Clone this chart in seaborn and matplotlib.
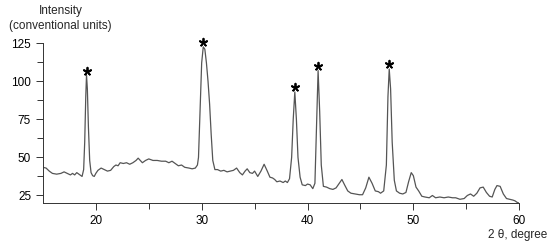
import seaborn as sns
import pandas as pd
from matplotlib import pyplot as plt

# 2 theta (degree) and intensity
two_theta = [15.0, 15.3, 15.6, 15.9, 16.3, 16.7, 17.0, 17.3, 17.6, 17.8, 18.0, 18.2, 18.4, 18.6, 18.7,
             18.85, 18.95, 19.05, 19.12, 19.2, 19.3, 19.42, 19.55, 19.7, 19.85, 20.0, 20.2, 20.5, 20.8,
             21.1, 21.4, 21.7, 21.9, 22.1, 22.3, 22.6, 22.9, 23.2, 23.5, 23.8, 24.0, 24.2, 24.4, 24.7,
             25.0, 25.4, 25.8, 26.2, 26.6, 26.9, 27.2, 27.5, 27.8, 28.1, 28.4, 28.8, 29.1, 29.4, 29.6,
             29.7, 29.85, 30.0, 30.15, 30.3, 30.45, 30.6, 30.75, 30.9, 31.05, 31.25, 31.5, 31.8, 32.1,
             32.4, 32.7, 33.0, 33.3, 33.6, 33.85, 34.1, 34.3, 34.55, 34.8, 35.0, 35.3, 35.6, 35.9, 36.2,
             36.45, 36.7, 36.9, 37.1, 37.4, 37.7, 37.9, 38.1, 38.3, 38.5, 38.65, 38.8, 38.95, 39.1, 39.3,
             39.5, 39.8, 40.0, 40.25, 40.5, 40.7, 40.85, 41.0, 41.15, 41.3, 41.5, 41.8, 42.1, 42.4, 42.7,
             43.0, 43.25, 43.5, 43.8, 44.1, 44.5, 44.9, 45.2, 45.5, 45.8, 46.1, 46.4, 46.7, 46.9, 47.2,
             47.45, 47.6, 47.72, 47.85, 48.0, 48.2, 48.4, 48.7, 49.0, 49.3, 49.55, 49.8, 50.0, 50.25,
             50.5, 50.8, 51.1, 51.5, 51.8, 52.1, 52.5, 52.9, 53.3, 53.7, 54.0, 54.4, 54.8, 55.1, 55.4,
             55.7, 56.0, 56.3, 56.6, 56.9, 57.2, 57.45, 57.7, 57.9, 58.2, 58.5, 58.8, 59.1, 59.4, 59.6,
             59.8, 60.0]
intensity = [43.5, 43, 41, 39.5, 39, 39.5, 40.5, 39.5, 38.5, 39.5, 38.5, 40, 39, 38, 37.5,
             42, 60, 90, 104, 95, 70, 48, 40, 38, 37.5, 39.5, 41.5, 43, 42,
             41, 41.5, 44, 45, 44.5, 46.5, 46, 46.5, 45.5, 46.5, 48, 49.5, 48, 46.5, 48,
             49, 48, 48, 47.5, 47.5, 46.5, 47.5, 46, 44.5, 45, 43.5, 43, 42.5, 43, 45,
             50, 80, 112, 122.5, 121, 112, 100, 85, 65, 48, 42, 42, 41, 41.5,
             40.5, 41, 41.5, 43, 40, 38.5, 41, 42.5, 40, 39.5, 41, 37.5, 41, 45.5, 41,
             37, 36.5, 35.5, 34, 34.5, 33.5, 34.5, 33.5, 36, 50, 75, 93, 75, 50, 37,
             32, 31.5, 32.5, 32, 29.5, 33, 70, 107, 80, 45, 31, 30.5, 29.5, 29, 30,
             33, 35.5, 32, 28, 26.5, 26, 25.5, 25.5, 30, 37, 33, 28, 27.5, 26.5, 28,
             45, 90, 108, 95, 60, 35, 28, 26.5, 26, 27, 34, 40, 38, 30.5,
             28, 24.5, 24, 23.5, 25, 23.5, 24, 23.5, 24, 23.5, 23.5, 22.5, 23, 25, 26,
             24.5, 26.5, 30, 30.5, 27, 24.5, 24, 29, 31.5, 31, 26, 23, 22.5, 22, 21.5,
             20.5, 20]

# marked peaks (asterisks)
star_x = [19.12, 30.15, 38.8, 41.0, 47.72]
star_y = [107, 126, 96, 110, 111]

df = pd.DataFrame({'two_theta': two_theta, 'intensity': intensity})

sns.set_style('ticks')
plt.rcParams['font.family'] = ['Liberation Sans', 'DejaVu Sans']

fig = plt.figure(figsize=(5.5, 2.45), dpi=100)
ax = fig.add_axes([0.078, 0.171, 0.866, 0.653])

sns.lineplot(data=df, x='two_theta', y='intensity', ax=ax, color='#555555', linewidth=0.9)
ax.scatter(star_x, star_y, marker=(5, 2, 0), s=30, color='black', linewidths=1.3, clip_on=False, zorder=3)

ax.set_xlim(15, 60)
ax.set_ylim(20, 125)
ax.set_xticks([20, 30, 40, 50, 60])
ax.set_xticks([25, 35, 45, 55], minor=True)
ax.set_yticks([25, 50, 75, 100, 125])
ax.set_yticks([37.5, 62.5, 87.5, 112.5], minor=True)
ax.tick_params(which='major', length=5, width=0.7, labelsize=8.5, colors='#333333', labelcolor='black')
ax.tick_params(which='minor', length=4, width=0.7, colors='#333333')
ax.set_xlabel('')
ax.set_ylabel('')
sns.despine(ax=ax)
for s in ['left', 'bottom']:
    ax.spines[s].set_linewidth(0.7)
    ax.spines[s].set_color('#333333')

fig.text(0.11, 0.925, 'Intensity\n(conventional units)', ha='center', va='center', fontsize=8.5, linespacing=1.4)
fig.text(0.995, 0.04, '2 θ, degree', ha='right', va='center', fontsize=8.5)

fig.savefig('out.png', dpi=100)
